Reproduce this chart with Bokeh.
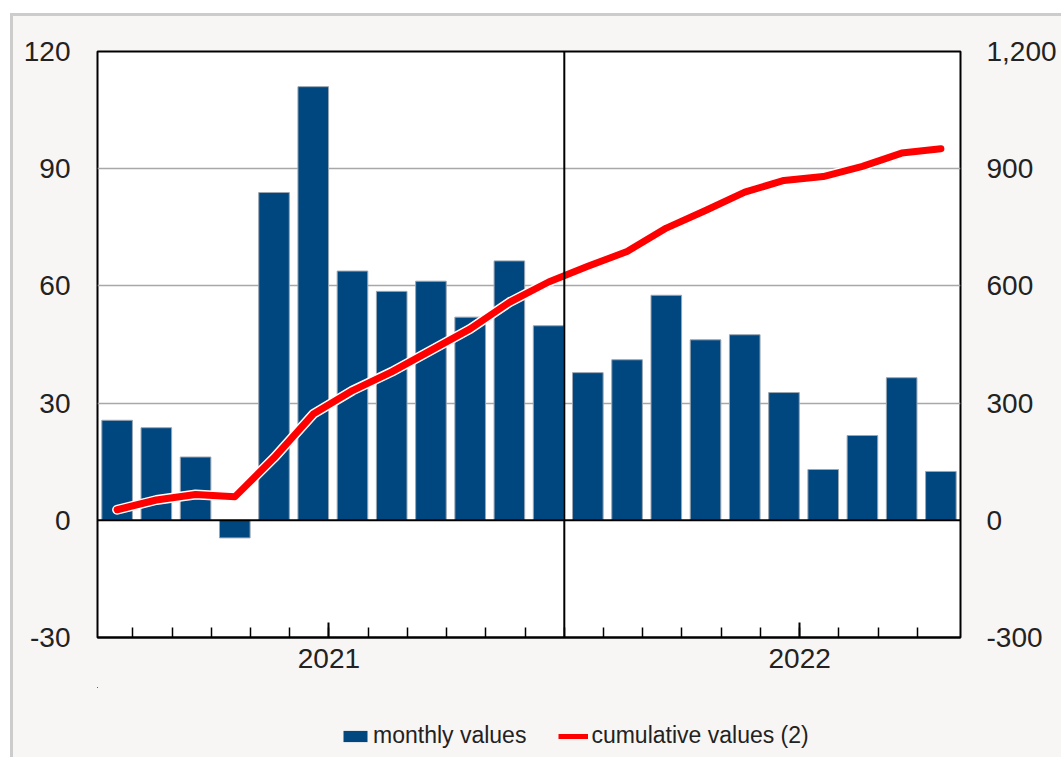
from bokeh.plotting import figure
from bokeh.layouts import column
from bokeh.models import (Range1d, LinearAxis, FixedTicker, Span, Legend, LegendItem,
                          ColumnDataSource)
from bokeh.embed import file_html
from bokeh.resources import INLINE

months = ["Jan 2021", "Feb 2021", "Mar 2021", "Apr 2021", "May 2021", "Jun 2021",
          "Jul 2021", "Aug 2021", "Sep 2021", "Oct 2021", "Nov 2021", "Dec 2021",
          "Jan 2022", "Feb 2022", "Mar 2022", "Apr 2022", "May 2022", "Jun 2022",
          "Jul 2022", "Aug 2022", "Sep 2022", "Oct 2022"]
monthly = [25.6, 23.7, 16.2, -4.5, 83.9, 111.0, 63.8, 58.6, 61.2, 52.0, 66.4, 49.8,
           37.8, 41.1, 57.6, 46.2, 47.5, 32.7, 13.0, 21.7, 36.5, 12.5]
cumulative = [27, 52, 66, 60, 160, 272, 332, 380, 435, 490, 558, 610,
              650, 688, 748, 793, 840, 870, 880, 906, 940, 951]
years = ["2021", "2022"]
left_ticks = [-30, 0, 30, 60, 90, 120]
right_ticks = [-300, 0, 300, 600, 900, 1200]
series_names = ["monthly values", "cumulative values (2)"]

BG = "#f8f5f5"
BLUE = "#00467f"
RED = "#ff0000"
TXT = "#222222"
FONT = "Liberation Sans"

xs = list(range(len(months)))
src = ColumnDataSource(dict(x=xs, m=monthly, c=cumulative, label=months))

p = figure(width=1048, height=671, output_backend="svg", toolbar_location=None,
           x_range=Range1d(-0.5, len(months) - 0.5),
           y_range=Range1d(left_ticks[0], left_ticks[-1]),
           frame_width=863, frame_height=586,
           min_border_left=84, min_border_top=35, min_border_right=101, min_border_bottom=50)
p.extra_y_ranges = {"cum": Range1d(right_ticks[0], right_ticks[-1])}
p.background_fill_color = "white"
p.border_fill_color = BG
p.outline_line_color = "black"
p.outline_line_width = 2

# grid
p.xgrid.visible = False
p.ygrid.ticker = FixedTicker(ticks=[t for t in left_ticks if t not in (0, left_ticks[0], left_ticks[-1])])
p.ygrid.grid_line_color = "#a8a8a8"
p.ygrid.grid_line_width = 1.5

# bars
p.vbar(x="x", top="m", bottom=0, width=0.78, source=src,
       fill_color=BLUE, line_color="#9aa6b2", line_width=1)

zero = Span(location=0, dimension="width", line_color="black", line_width=2)
p.add_layout(zero)

# year boundary
first_2022 = months.index("Jan 2022")
ysep = Span(location=first_2022 - 0.6, dimension="height", line_color="black", line_width=2)
p.add_layout(ysep)

# cumulative line with white halo
p.line(x="x", y="c", source=src, y_range_name="cum", line_color="white",
       line_width=10, line_cap="round", line_join="round")
p.line(x="x", y="c", source=src, y_range_name="cum", line_color=RED,
       line_width=7, line_cap="round", line_join="round")

# x axis
xa = p.xaxis[0]
major = [months.index("Jun " + y) + 0.4 for y in years]
minor = [i + 0.4 for i in range(len(months) - 1)]
xa.ticker = FixedTicker(ticks=major, minor_ticks=minor)
xa.major_label_overrides = {m: y for m, y in zip(major, years)}
xa.major_tick_in = 15
xa.major_tick_out = 0
xa.minor_tick_in = 10
xa.minor_tick_out = 0
xa.major_tick_line_width = 2
xa.minor_tick_line_width = 1.5
xa.major_tick_line_color = "black"
xa.minor_tick_line_color = "black"
xa.axis_line_color = "black"
xa.axis_line_width = 2
xa.major_label_standoff = 11
xa.major_label_text_font_size = "28px"
xa.major_label_text_font = FONT
xa.major_label_text_color = TXT

# left axis
ya = p.yaxis[0]
ya.ticker = FixedTicker(ticks=left_ticks)
ya.major_label_overrides = {t: str(t) for t in left_ticks}
ya.axis_line_color = None
ya.major_tick_line_color = None
ya.minor_tick_line_color = None
ya.major_label_standoff = 21
ya.major_label_text_font_size = "28px"
ya.major_label_text_font = FONT
ya.major_label_text_color = TXT

# right axis
ra = LinearAxis(y_range_name="cum")
ra.ticker = FixedTicker(ticks=right_ticks)
ra.major_label_overrides = {t: f"{t:,}" for t in right_ticks}
ra.axis_line_color = None
ra.major_tick_line_color = None
ra.minor_tick_line_color = None
ra.major_label_standoff = 20
ra.major_label_text_font_size = "28px"
ra.major_label_text_font = FONT
ra.major_label_text_color = TXT
p.add_layout(ra, "right")

# legend strip (separate figure below the chart; key glyphs use the same data, kept out of view)
lf = figure(width=1048, height=70, output_backend="svg", toolbar_location=None,
            x_range=Range1d(1000, 1001), y_range=Range1d(-2000, -1000),
            min_border_left=0, min_border_right=0, min_border_top=0, min_border_bottom=0)
lf.axis.visible = False
lf.grid.visible = False
lf.outline_line_color = None
lf.background_fill_color = BG
lf.border_fill_color = BG
kb = lf.vbar(x="x", top="c", bottom="m", width=0.78, source=src,
             fill_color=BLUE, line_color=None)
kl = lf.line(x="x", y="c", source=src, line_color=RED, line_width=5)
legend = Legend(items=[LegendItem(label=series_names[0], renderers=[kb]),
                       LegendItem(label=series_names[1], renderers=[kl])],
                orientation="horizontal", location=(243, 8),
                glyph_width=30, glyph_height=14, label_standoff=3, spacing=32,
                label_text_font=FONT, label_text_font_size="23px", label_text_color=TXT,
                background_fill_alpha=0, border_line_color=None, margin=0, padding=0)
lf.add_layout(legend, "center")

layout = column(p, lf, spacing=0)
layout.styles = {"border-top": "3px solid #cccccc", "border-left": "3px solid #cccccc",
                 "margin-left": "10px", "margin-top": "13px", "background": BG}

html = file_html(layout, INLINE)
html = html.replace("<body>", f'<body style="margin:0;background:{BG}">', 1)
open("out.html", "w").write(html)
